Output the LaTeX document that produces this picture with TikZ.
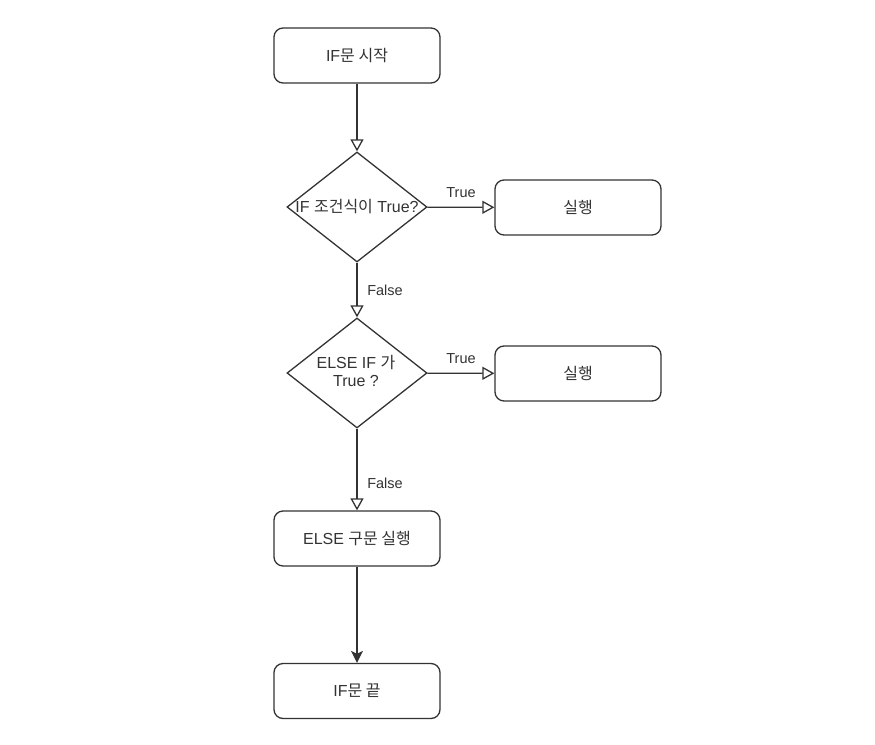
\documentclass[tikz,border=0pt]{standalone}
\usepackage{fontspec}
\setmainfont{Liberation Sans}
\newfontfamily\kr{Noto Sans CJK KR}
\usetikzlibrary{shapes.geometric,arrows.meta}
\definecolor{ln}{HTML}{333333}
\tikzset{
  x=1pt,y=-1pt,
  every node/.style={text=ln,font=\fontsize{16}{18}\selectfont},
  boxnode/.style={draw=ln,line width=1.3pt,rounded corners=9pt,minimum width=166pt,minimum height=55pt,inner sep=0pt},
  decision/.style={draw=ln,line width=1.3pt,diamond,aspect=1.2727,minimum width=140pt,minimum height=110pt,inner sep=0pt},
  openarrow/.style={draw=ln,line width=1.3pt,-{Triangle[open,length=12pt,width=13pt,line width=1.3pt]}},
  fillarrow/.style={draw=ln,line width=1.3pt,-{Stealth[length=12pt,width=12pt,inset=3pt]}},
  lbl/.style={font=\fontsize{14.5}{16}\selectfont,inner sep=0pt}
}
\begin{document}
\begin{tikzpicture}
\useasboundingbox (0,0) rectangle (875,744);
\node[boxnode] (start) at (357,55.5) {IF{\kr 문 시작}};
\node[decision] (d1) at (357,207) {};
\node[inner sep=0pt] (d1t) at (357,206.5) {IF {\kr 조건식이} True?};
\node[boxnode] (r1) at (578,207.5) {\kr 실행};
\node[decision] (d2) at (357,373) {};
\node[inner sep=0pt,align=center,font=\fontsize{16}{18}\selectfont] (d2t) at (356,370.5) {ELSE IF {\kr 가}\\True ?};
\node[boxnode] (r2) at (578,373.5) {\kr 실행};
\node[boxnode] (else) at (357,538.5) {ELSE {\kr 구문 실행}};
\node[boxnode] (end) at (357,691) {IF{\kr 문 끝}};
\draw[openarrow] (start) -- (d1);
\draw[openarrow] (d1) -- (r1);
\draw[openarrow] (d1) -- (d2);
\draw[openarrow] (d2) -- (r2);
\draw[openarrow] (d2) -- (else);
\draw[fillarrow] (else) -- (end);
\node[lbl] (t1) at (461,193) {True};
\node[lbl] (t2) at (461,359) {True};
\node[lbl] (f1) at (385,290) {False};
\node[lbl] (f2) at (385,483) {False};
\end{tikzpicture}
\end{document}
